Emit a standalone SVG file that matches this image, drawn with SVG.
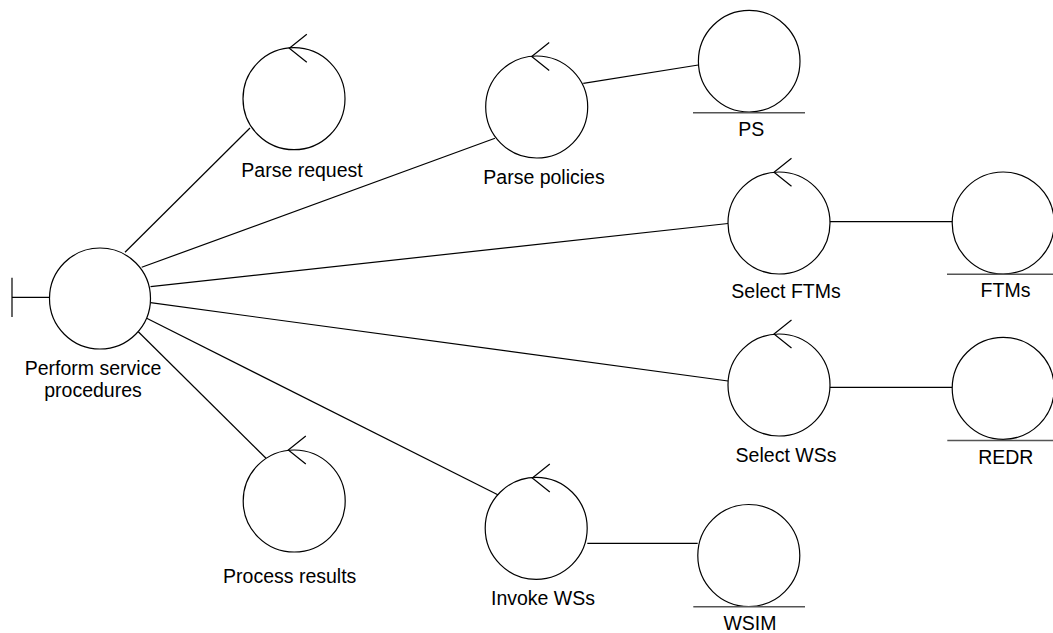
<svg xmlns="http://www.w3.org/2000/svg" width="1053" height="633" viewBox="0 0 1053 633">
<style>
.c{fill:#fff;stroke:#000;stroke-width:1.2}
.a{fill:none;stroke:#000;stroke-width:1.2}
.u{stroke:#555;stroke-width:1.6}
.l{stroke:#000;stroke-width:1.2;fill:none}
text{font-family:"Liberation Sans",Arial,sans-serif;font-size:19.5px;text-anchor:middle;fill:#000}
</style>
<defs>
<path id="ctl" class="a" d="M13,-14 L-4.5,0 L13,14"/>
</defs>
<rect width="1053" height="633" fill="#fff"/>
<g id="connectors">
<line class="l" x1="125" y1="252.3" x2="250" y2="128"/>
<line class="l" x1="141.7" y1="267.3" x2="495" y2="138.3"/>
<line class="l" x1="150.5" y1="286.7" x2="728" y2="223.5"/>
<line class="l" x1="150.5" y1="302.7" x2="728" y2="381"/>
<line class="l" x1="146.7" y1="318.3" x2="498.3" y2="495"/>
<line class="l" x1="138.3" y1="331.7" x2="266" y2="458.3"/>
<line class="l" x1="583.3" y1="83.3" x2="698.3" y2="65"/>
<line class="l" x1="830" y1="221.7" x2="952.3" y2="221.7"/>
<line class="l" x1="830" y1="387.3" x2="952.3" y2="387.3"/>
<line class="l" x1="587.3" y1="543.3" x2="697.7" y2="543.3"/>
</g>
<g id="perform">
<line class="l" x1="12" y1="277.7" x2="12" y2="317"/>
<line class="l" x1="12" y1="297.3" x2="49.5" y2="297.3"/>
<circle class="c" cx="100" cy="298.5" r="50.5"/>
<text x="93" y="375">Perform service</text>
<text x="93" y="397">procedures</text>
</g>
<g id="parse-request">
<circle class="c" cx="294" cy="98.7" r="51"/>
<use href="#ctl" x="293.8" y="48.3"/>
<text x="302" y="176.5">Parse request</text>
</g>
<g id="parse-policies">
<circle class="c" cx="536.7" cy="107" r="51"/>
<use href="#ctl" x="536.2" y="56.5"/>
<text x="544" y="184">Parse policies</text>
</g>
<g id="select-ftms">
<circle class="c" cx="779" cy="223" r="51"/>
<use href="#ctl" x="778.5" y="172.3"/>
<text x="786" y="298">Select FTMs</text>
</g>
<g id="select-wss">
<circle class="c" cx="779" cy="385" r="51"/>
<use href="#ctl" x="778.5" y="334"/>
<text x="786" y="461.7">Select WSs</text>
</g>
<g id="invoke-wss">
<circle class="c" cx="536.2" cy="528.3" r="51"/>
<use href="#ctl" x="536.8" y="478"/>
<text x="543" y="605">Invoke WSs</text>
</g>
<g id="process-results">
<circle class="c" cx="294.2" cy="501" r="51"/>
<use href="#ctl" x="292.8" y="450"/>
<text x="289.7" y="582.7">Process results</text>
</g>
<g id="ps">
<circle class="c" cx="749.2" cy="61.2" r="50.8"/>
<line class="u" x1="693" y1="112.7" x2="805" y2="112.7"/>
<text x="751.3" y="135.7">PS</text>
</g>
<g id="ftms">
<circle class="c" cx="1003.2" cy="223" r="51"/>
<line class="u" x1="947" y1="274.3" x2="1053" y2="274.3"/>
<text x="1005.5" y="297">FTMs</text>
</g>
<g id="redr">
<circle class="c" cx="1003.2" cy="388.3" r="51"/>
<line class="u" x1="947.3" y1="440.5" x2="1053" y2="440.5"/>
<text x="1005.8" y="464">REDR</text>
</g>
<g id="wsim">
<circle class="c" cx="748.8" cy="555.5" r="51"/>
<line class="u" x1="693.3" y1="606.8" x2="805" y2="606.8"/>
<text x="750" y="629.5">WSIM</text>
</g>
</svg>
